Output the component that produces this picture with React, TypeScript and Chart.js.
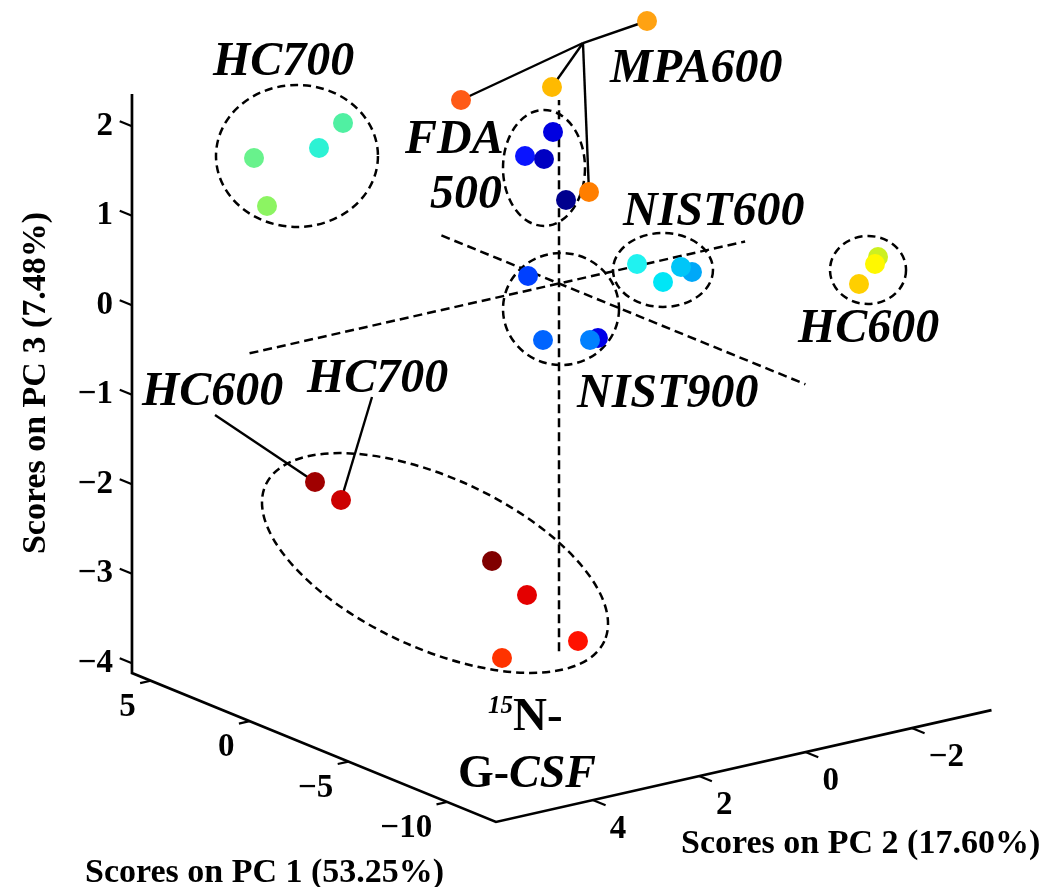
import React, { useEffect, useRef } from "react";
import { Chart, registerables } from "chart.js";

Chart.register(...registerables);

// ---------------- DATA ----------------
// Scores as they appear on the picture plane of the 3-D view:
// H = horizontal position (in PC2-axis units), V = vertical position (in PC3 units)
const groupNames = ["HC700", "MPA600", "FDA500", "NIST600", "HC600", "NIST900", "15N-G-CSF"];
const groupSizes = [4, 4, 4, 4, 3, 4, 6];

const scoreH = [
  -4.062, -4.514, -5.736, -5.492,
  1.655, -1.843, -0.132, 0.564,
  -0.113, -0.639, -0.282, 0.132,
  1.467, 1.956, 2.501, 2.294,
  6.0, 5.943, 5.642,
  -0.583, -0.301, 0.733, 0.583,
  -4.589, -4.1, -1.26, -0.602, 0.357, -1.072,
];
const scoreV = [
  1.793, 1.514, 1.402, 0.866,
  2.933, 2.05, 2.196, 1.022,
  1.693, 1.425, 1.391, 0.933,
  0.218, 0.017, 0.128, 0.184,
  0.296, 0.218, -0.006,
  0.084, -0.631, -0.609, -0.631,
  -2.218, -2.419, -3.101, -3.48, -3.994, -4.184,
];
const pointColors = [
  "#50F0A2", "#2CF2D4", "#68F28C", "#8CF462",
  "#FFA212", "#FF5A16", "#FFBA00", "#FF7E00",
  "#0000E0", "#0A14FF", "#0000C2", "#00008E",
  "#20F2F0", "#00E6F6", "#00A8F8", "#00C6F8",
  "#CCF020", "#FFF800", "#FFCF00",
  "#0040FF", "#0064FF", "#0000E8", "#0080FF",
  "#A00000", "#CC0000", "#800000", "#E40000", "#FF1200", "#FF3300",
];

// Axis tick labels and ranges of the 3-D box
const pc1Ticks = [5, 0, -5, -10];
const pc2Ticks = [4, 2, 0, -2];
const pc3Ticks = [-4, -3, -2, -1, 0, 1, 2];
const pc1Range = [-12.47, 5.95];
const pc2Range = [-3.5, 5.82];
const pc3Range = [-4.11, 2.36];
const pc3OriginLineTop = 2.05;

const axisTitles = ["Scores on PC 1 (53.25%)", "Scores on PC 2 (17.60%)", "Scores on PC 3 (7.48%)"];

// ---------------- ANNOTATIONS (picture-plane units) ----------------
const ellipses = [
  { cx: -4.928, cy: 1.425, rx: 1.523, ry: 0.793, rot: 0 },
  { cx: -0.282, cy: 1.291, rx: 0.771, ry: 0.648, rot: 0 },
  { cx: 1.956, cy: 0.151, rx: 0.94, ry: 0.413, rot: 0 },
  { cx: 5.812, cy: 0.151, rx: 0.715, ry: 0.38, rot: 0 },
  { cx: 0.038, cy: -0.285, rx: 1.091, ry: 0.626, rot: 0 },
  { cx: -2.332, cy: -3.123, rx: 3.508, ry: 0.95, rot: 24.8 },
];
const leaders = [
  { from: [0.451, 2.687], to: 4 },
  { from: [0.451, 2.687], to: 5 },
  { from: [0.451, 2.687], to: 6 },
  { from: [0.451, 2.687], to: 7 },
  { from: [-6.47, -1.469], to: 23 },
  { from: [-3.517, -1.268], to: 24 },
];
type Piece = { t: string; italic: boolean; size: number; dy?: number };
const labels: { h: number; v: number; pieces: Piece[] }[] = [
  { h: -6.507, v: 2.33, pieces: [{ t: "HC700", italic: true, size: 48 }] },
  { h: 0.959, v: 2.251, pieces: [{ t: "MPA600", italic: true, size: 48 }] },
  { h: -2.896, v: 1.458, pieces: [{ t: "FDA", italic: true, size: 48 }] },
  { h: -2.426, v: 0.844, pieces: [{ t: "500", italic: true, size: 48 }] },
  { h: 1.204, v: 0.654, pieces: [{ t: "NIST600", italic: true, size: 48 }] },
  { h: 4.495, v: -0.654, pieces: [{ t: "HC600", italic: true, size: 48 }] },
  { h: 0.339, v: -1.38, pieces: [{ t: "NIST900", italic: true, size: 48 }] },
  { h: -7.843, v: -1.358, pieces: [{ t: "HC600", italic: true, size: 48 }] },
  { h: -4.74, v: -1.212, pieces: [{ t: "HC700", italic: true, size: 48 }] },
  {
    h: -1.335, v: -4.989,
    pieces: [
      { t: "15", italic: true, size: 25, dy: -17 },
      { t: "N-", italic: false, size: 47 },
    ],
  },
  {
    h: -1.9, v: -5.626,
    pieces: [
      { t: "G-", italic: false, size: 46 },
      { t: "CSF", italic: true, size: 46 },
    ],
  },
];
const titlePos = [
  { h: -8.915, v: -6.687 },
  { h: 2.295, v: -6.363 },
  { h: -9.667, v: -1.112 },
];

// picture-plane scale: H = 0 at 559 px with 53.17 px per unit; V = 0 at 283.5 px with 89.5 px per unit
const planeScale = { x0: 559, xPerUnit: 53.17, y0: 283.5, yPerUnit: 89.5 };

// view projection of (PC1, PC2, PC3) onto the picture plane
const projCoef = { h1: -0.37164, h2: -1.0, v1: 0.09028, v2: -0.13408 };
function project(p1: number, p2: number, p3: number) {
  return { h: projCoef.h1 * p1 + projCoef.h2 * p2, v: p3 + projCoef.v1 * p1 + projCoef.v2 * p2 };
}

const SERIF = "'Liberation Serif', 'Times New Roman', serif";
const minus = (t: number) => String(t).replace("-", "\u2212");

const overlay = {
  id: "overlay3d",
  beforeDatasetsDraw(chart: any) {
    const { ctx } = chart;
    const xs = chart.scales.x;
    const ys = chart.scales.y;
    const px = (h: number, v: number) => [xs.getPixelForValue(h), ys.getPixelForValue(v)];
    const p3 = (a: number, b: number, c: number) => {
      const q = project(a, b, c);
      return px(q.h, q.v);
    };
    const [p1min, p1max] = pc1Range;
    const [p2min, p2max] = pc2Range;
    const [p3min, p3max] = pc3Range;

    ctx.save();
    ctx.strokeStyle = "#000";
    const dl = (a: number[], b: number[]) => {
      ctx.beginPath();
      ctx.moveTo(a[0], a[1]);
      ctx.lineTo(b[0], b[1]);
      ctx.stroke();
    };
    // --- dashed origin lines ---
    ctx.lineWidth = 2.5;
    ctx.setLineDash([9, 5]);
    dl(p3(p1max, 0, 0), p3(p1min, 0, 0));
    dl(p3(0, p2max, 0), p3(0, p2min, 0));
    dl(p3(0, 0, p3min), p3(0, 0, pc3OriginLineTop));

    // --- ellipses ---
    ctx.setLineDash([8, 5]);
    for (const e of ellipses) {
      const [cx, cy] = px(e.cx, e.cy);
      const rx = Math.abs(xs.getPixelForValue(e.cx + e.rx) - cx);
      const ry = Math.abs(ys.getPixelForValue(e.cy + e.ry) - cy);
      ctx.beginPath();
      ctx.ellipse(cx, cy, rx, ry, (e.rot * Math.PI) / 180, 0, Math.PI * 2);
      ctx.stroke();
    }
    ctx.setLineDash([]);

    // --- leader lines ---
    ctx.lineWidth = 2.4;
    for (const l of leaders) {
      dl(px(l.from[0], l.from[1]), px(scoreH[l.to], scoreV[l.to]));
    }

    // --- box axes ---
    ctx.lineWidth = 2.7;
    ctx.lineJoin = "miter";
    const top = p3(p1max, p2max, p3max);
    const c0 = p3(p1max, p2max, p3min);
    const c1 = p3(p1min, p2max, p3min);
    const c2 = p3(p1min, p2min, p3min);
    ctx.beginPath();
    ctx.moveTo(top[0], top[1]);
    ctx.lineTo(c0[0], c0[1]);
    ctx.lineTo(c1[0], c1[1]);
    ctx.lineTo(c2[0], c2[1]);
    ctx.stroke();

    ctx.lineWidth = 2.2;
    ctx.fillStyle = "#000";
    ctx.font = `bold 33px ${SERIF}`;
    ctx.textBaseline = "middle";
    // PC3 ticks (point along +PC1)
    ctx.textAlign = "right";
    for (const t of pc3Ticks) {
      const a = p3(p1max, p2max, t);
      const b = p3(p1max + 0.62, p2max, t);
      dl(a, b);
      ctx.fillText(minus(t), a[0] - 19, a[1]);
    }
    // PC1 ticks (point along +PC2)
    for (const t of pc1Ticks) {
      const a = p3(t, p2max, p3min);
      const b = p3(t, p2max + 0.2, p3min);
      dl(a, b);
      ctx.fillText(minus(t), a[0] - 15, a[1] + 26.5);
    }
    // PC2 ticks (point along -PC1)
    ctx.textAlign = "left";
    for (const t of pc2Ticks) {
      const a = p3(p1min, t, p3min);
      const b = p3(p1min - 0.65, t, p3min);
      dl(a, b);
      ctx.fillText(minus(t), a[0] + 17, a[1] + 29);
    }

    // --- axis titles ---
    ctx.font = `bold 34px ${SERIF}`;
    ctx.textBaseline = "alphabetic";
    ctx.textAlign = "left";
    let q = px(titlePos[0].h, titlePos[0].v);
    ctx.fillText(axisTitles[0], q[0], q[1]);
    q = px(titlePos[1].h, titlePos[1].v);
    ctx.fillText(axisTitles[1], q[0], q[1]);
    q = px(titlePos[2].h, titlePos[2].v);
    ctx.save();
    ctx.translate(q[0], q[1]);
    ctx.rotate(-Math.PI / 2);
    ctx.textAlign = "center";
    ctx.fillText(axisTitles[2], 0, 0);
    ctx.restore();

    // --- group labels ---
    ctx.textAlign = "left";
    ctx.textBaseline = "alphabetic";
    for (const lab of labels) {
      let [x, y] = px(lab.h, lab.v);
      for (const p of lab.pieces) {
        ctx.font = `${p.italic ? "italic " : ""}bold ${p.size}px ${SERIF}`;
        ctx.fillText(p.t, x, y + (p.dy || 0));
        x += ctx.measureText(p.t).width;
      }
    }
    ctx.restore();
  },
};

export default function App() {
  const canvasRef = useRef<HTMLCanvasElement | null>(null);

  useEffect(() => {
    const canvas = canvasRef.current;
    if (!canvas) return;
    const W = 1052;
    const H = 887;
    const { x0, xPerUnit, y0, yPerUnit } = planeScale;
    const chart = new Chart(canvas, {
      type: "scatter",
      data: {
        datasets: [
          {
            label: groupNames.join(", "),
            data: scoreH.map((h, i) => ({ x: h, y: scoreV[i] })),
            backgroundColor: pointColors,
            borderWidth: 0,
            pointRadius: 10,
            pointHoverRadius: 10,
            clip: false as any,
          },
        ],
      },
      options: {
        responsive: false,
        animation: false,
        events: [],
        layout: { padding: 0 },
        plugins: { legend: { display: false }, tooltip: { enabled: false } },
        scales: {
          x: { type: "linear", display: false, min: -x0 / xPerUnit, max: (W - x0) / xPerUnit },
          y: { type: "linear", display: false, min: (y0 - H) / yPerUnit, max: y0 / yPerUnit },
        },
      },
      plugins: [overlay],
    });
    // fit the scale ranges to the actual chart area so the picture plane maps onto the page
    const ca = chart.chartArea;
    const sx: any = chart.options.scales!.x;
    const sy: any = chart.options.scales!.y;
    sx.min = (ca.left - x0) / xPerUnit;
    sx.max = (ca.right - x0) / xPerUnit;
    sy.max = (y0 - ca.top) / yPerUnit;
    sy.min = (y0 - ca.bottom) / yPerUnit;
    chart.update();
    return () => chart.destroy();
  }, []);

  return (
    <div style={{ position: "fixed", left: 0, top: 0, width: 1052, height: 887, background: "#fff" }}>
      <canvas ref={canvasRef} width={1052} height={887} style={{ display: "block" }} />
    </div>
  );
}
